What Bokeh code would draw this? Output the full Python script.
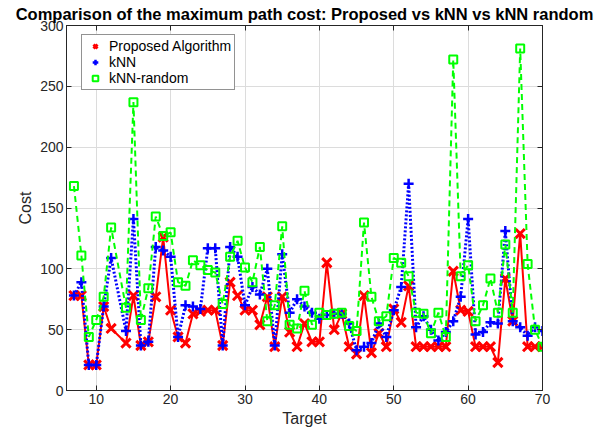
from bokeh.plotting import figure
from bokeh.models import Range1d, LinearAxis, FixedTicker, Legend, LegendItem
from bokeh.embed import file_html
from bokeh.resources import INLINE

targets = [7, 8, 9, 10, 11, 12, 14, 15, 16, 17, 18, 19, 20, 21, 22, 23, 24, 25, 26, 27,
           28, 29, 30, 31, 32, 33, 34, 35, 36, 37, 38, 39, 40, 41, 42, 43, 44, 45, 46, 47,
           48, 49, 50, 51, 52, 53, 54, 55, 56, 57, 58, 59, 60, 61, 62, 63, 64, 65, 66, 67,
           68, 69, 70]

proposed = [78, 78, 21, 21, 69, 51, 39, 78, 37, 40, 77, 126, 66, 44, 39, 63, 65, 66, 66, 37,
            89, 78, 66, 66, 54, 77, 36, 77, 48, 36, 55, 40, 40, 105, 50, 63, 36, 30, 78, 31,
            47, 36, 67, 56, 86, 36, 36, 36, 36, 36, 98, 66, 65, 36, 36, 36, 23, 92, 57, 129,
            36, 36, 36]

knn = [78, 89, 21, 21, 69, 109, 49, 141, 37, 40, 118, 115, 110, 44, 70, 69, 67, 117, 117, 37,
       118, 110, 70, 85, 79, 100, 37, 112, 64, 75, 69, 64, 59, 62, 63, 63, 55, 33, 36, 39,
       55, 44, 66, 85, 170, 52, 61, 50, 41, 48, 57, 77, 141, 46, 48, 56, 55, 131, 57, 52,
       45, 52, 49]

knn_random = [168, 111, 44, 58, 77, 134, 68, 237, 58, 84, 143, 127, 130, 89, 86, 107, 103, 99, 97, 71,
              110, 123, 101, 89, 118, 57, 70, 135, 54, 51, 82, 54, 64, 62, 63, 64, 53, 49, 138, 77,
              57, 61, 109, 105, 94, 64, 63, 47, 64, 44, 272, 94, 103, 57, 70, 92, 64, 120, 64, 281,
              104, 50, 36]

x_ticks = [10, 20, 30, 40, 50, 60, 70]
y_ticks = [0, 50, 100, 150, 200, 250, 300]

FONT = "Liberation Sans"
AX = "#262626"

p = figure(width=601, height=436, output_backend="svg", toolbar_location=None,
           x_range=Range1d(6, 70), y_range=Range1d(0, 300),
           min_border_left=66, min_border_right=59, min_border_top=0, min_border_bottom=46,
           title="Comparison of the maximum path cost: Proposed vs kNN vs kNN random")

p.title.text_font = FONT
p.title.text_font_size = "16.5px"
p.title.text_font_style = "bold"
p.title.align = "center"
p.title.text_color = "#000000"
p.title.standoff = 5

p.outline_line_color = AX
p.background_fill_color = "white"
p.border_fill_color = "white"

for ax, ticks, label in [(p.xaxis[0], x_ticks, "Target"), (p.yaxis[0], y_ticks, "Cost")]:
    ax.ticker = FixedTicker(ticks=ticks)
    ax.axis_label = label
    ax.axis_label_text_font = FONT
    ax.axis_label_text_font_size = "16px"
    ax.axis_label_text_font_style = "normal"
    ax.axis_label_text_color = AX
    ax.axis_label_standoff = 3
    ax.major_label_text_font = FONT
    ax.major_label_text_font_size = "14px"
    ax.major_label_text_color = AX
    ax.major_label_standoff = 3
    ax.major_tick_in = 5
    ax.major_tick_out = 0
    ax.minor_tick_line_color = None
    ax.axis_line_color = AX
    ax.major_tick_line_color = AX

top_ax = LinearAxis(ticker=FixedTicker(ticks=x_ticks), major_label_text_color=None,
                    major_label_text_font_size="1px",
                    major_label_standoff=0, major_tick_in=5, major_tick_out=0,
                    minor_tick_line_color=None, axis_line_color=AX, major_tick_line_color=AX)
right_ax = LinearAxis(ticker=FixedTicker(ticks=y_ticks), major_label_text_color=None,
                      major_label_text_font_size="1px",
                      major_label_standoff=0, major_tick_in=5, major_tick_out=0,
                      minor_tick_line_color=None, axis_line_color=AX, major_tick_line_color=AX)
p.add_layout(top_ax, "above")
p.add_layout(right_ax, "right")

p.xgrid.ticker = FixedTicker(ticks=x_ticks)
p.ygrid.ticker = FixedTicker(ticks=y_ticks)
p.grid.grid_line_color = "#dcdcdc"
p.grid.grid_line_width = 1

RED, BLUE, GREEN = "#ff0000", "#0000ff", "#00ff00"

p.line(targets, proposed, line_color=RED, line_width=2)
r_red = p.scatter(targets, proposed, marker="x", size=13, line_color=RED, line_width=3)

p.line(targets, knn, line_color=BLUE, line_width=3, line_dash="2 2")
r_blue = p.scatter(targets, knn, marker="cross", size=10, line_color=BLUE, line_width=2.5)

p.line(targets, knn_random, line_color=GREEN, line_width=2, line_dash="6 4")
r_green = p.scatter(targets, knn_random, marker="square", size=8, line_color=GREEN,
                    fill_color=None, line_width=2)

legend = Legend(items=[LegendItem(label="Proposed Algorithm", renderers=[r_red]),
                       LegendItem(label="kNN", renderers=[r_blue]),
                       LegendItem(label="kNN-random", renderers=[r_green])],
                location=(15, 300))
legend.border_line_color = AX
legend.border_line_width = 1
legend.background_fill_color = "white"
legend.background_fill_alpha = 1
legend.label_text_font = FONT
legend.label_text_font_size = "14px"
legend.label_text_color = "#000000"
legend.glyph_width = 20
legend.glyph_height = 14
legend.label_height = 14
legend.label_standoff = 4
legend.spacing = 0
legend.padding = 3
legend.margin = 0
p.add_layout(legend)

open("out.html", "w").write(file_html(p, INLINE))
